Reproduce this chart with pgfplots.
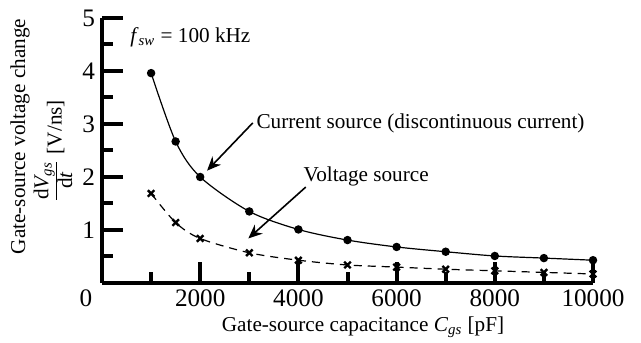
\documentclass[border=0pt]{standalone}
\usepackage{amsmath}
\usepackage{fontspec}
\setmainfont{Liberation Serif}
\usepackage{pgfplots}
\pgfplotsset{compat=1.18}
\usetikzlibrary{arrows.meta}
\newcommand{\lab}{\fontsize{10.6}{12.5}\selectfont}
\begin{document}
\begin{tikzpicture}
\path[use as bounding box] (-51pt,-29.5pt) rectangle (269.5pt,141.5pt);
\begin{axis}[
  at={(0,0)}, anchor=south west,
  scale only axis, width=245.5pt, height=132.5pt,
  xmin=0, xmax=10000, ymin=0, ymax=5,
  axis lines=left,
  axis line style={line width=2pt, -},
  tick align=inside,
  scaled x ticks=false,
  xtick={0,2000,4000,6000,8000,10000},
  xticklabels={\makebox[0pt][r]{\textrm{0}\hspace{4.9pt}},\textrm{2000},\textrm{4000},\textrm{6000},\textrm{8000},\textrm{10000}},
  ytick={0,1,2,3,4,5},
  yticklabels={,\textrm{1},\textrm{2},\textrm{3},\textrm{4},\textrm{5}},
  minor x tick num=1, minor y tick num=1,
  major tick length=10.5pt, minor tick length=5.5pt,
  tick style={line width=2pt, black},
  ticklabel style={font=\fontsize{12.6}{14}\selectfont},
  clip=false,
]
\addplot[black, line width=0.6pt, smooth, mark=*, mark size=1.8pt] coordinates {
(1000,3.96) (1500,2.67) (2000,2.0) (3000,1.35) (4000,1.01) (5000,0.81)
(6000,0.68) (7000,0.59) (8000,0.51) (9000,0.47) (10000,0.43)};
\addplot[black, line width=0.6pt, smooth, dash pattern=on 4pt off 3pt,
  mark=x, mark size=2.3pt, mark options={solid, line width=1.2pt}] coordinates {
(1000,1.69) (1500,1.14) (2000,0.84) (3000,0.57) (4000,0.43) (5000,0.34)
(6000,0.30) (7000,0.26) (8000,0.23) (9000,0.20) (10000,0.17)};
\draw[line width=0.8pt, -{Stealth[length=7pt,width=6pt]}] (axis cs:3070,3.02) -- (axis cs:2140,2.12);
\draw[line width=0.8pt, -{Stealth[length=7pt,width=6pt]}] (axis cs:4150,1.81) -- (axis cs:2980,0.84);
\node[anchor=west, inner sep=0pt, font=\lab] at (axis cs:3140,3.02) {Current source (discontinuous current)};
\node[anchor=west, inner sep=0pt, font=\lab] at (axis cs:4100,2.02) {Voltage source};
\node[anchor=west, inner sep=0pt, font=\lab] at (axis cs:570,4.64) {\textit{f}\textsubscript{\textit{sw}} = 100 kHz};
\end{axis}
\node[rotate=90, font=\lab, inner sep=0pt] at (-41pt,73.25pt) {Gate-source voltage change};
\node[rotate=90, font=\lab, inner sep=0pt] at (-24.5pt,66pt) {$\frac{\textstyle\textrm{d}\textit{V}_{\textit{gs}}}{\textstyle\textrm{d}\textit{t}}$ [V/ns]};
\node[font=\lab, inner sep=0pt] at (130.5pt,-22pt) {Gate-source capacitance \textit{C}\textsubscript{\textit{gs}} [pF]};
\end{tikzpicture}
\end{document}
